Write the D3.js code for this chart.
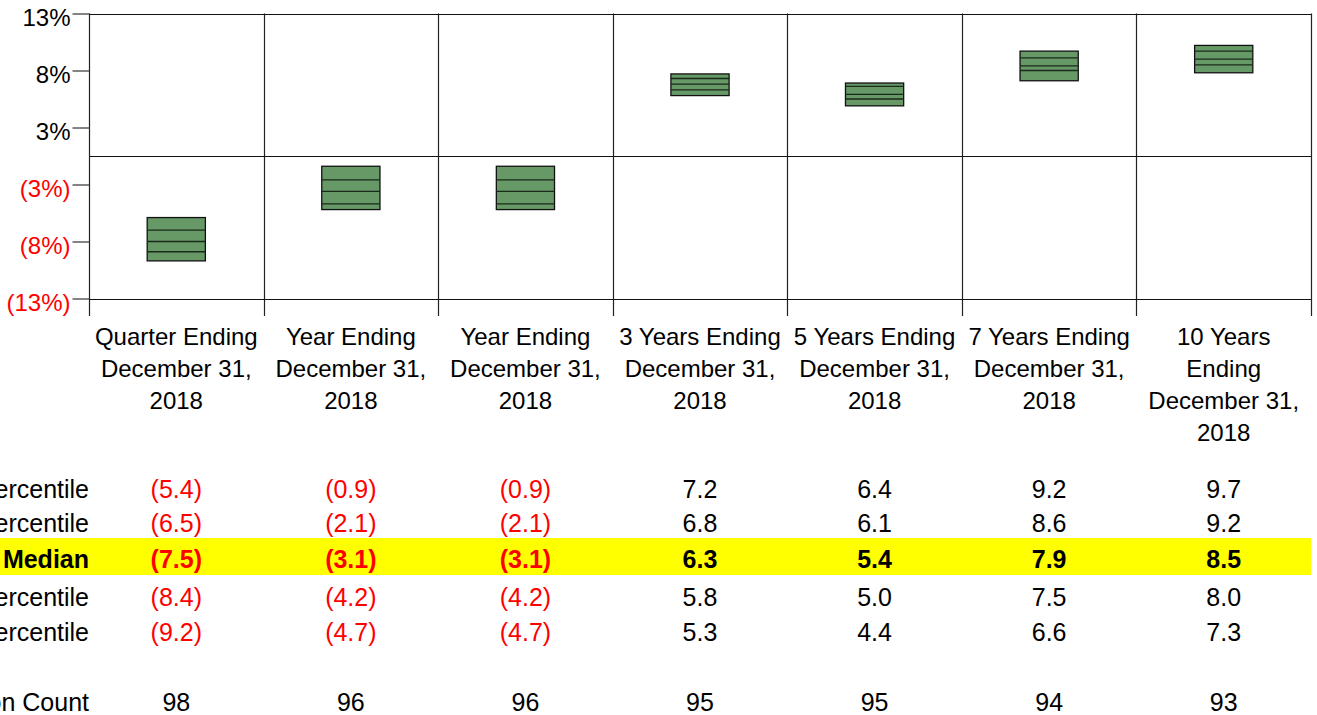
<!DOCTYPE html>
<html><head><meta charset="utf-8">
<script src="https://cdn.jsdelivr.net/npm/d3@7"></script>
<style>
html,body{margin:0;padding:0;background:#fff;overflow:hidden;}
svg{display:block;font-family:"Liberation Sans",Arial,sans-serif;}
</style></head>
<body>
<svg id="chart" width="1317" height="715"></svg>
<script>
const categories = [
  "Quarter Ending\nDecember 31,\n2018",
  "Year Ending\nDecember 31,\n2018",
  "Year Ending\nDecember 31,\n2018",
  "3 Years Ending\nDecember 31,\n2018",
  "5 Years Ending\nDecember 31,\n2018",
  "7 Years Ending\nDecember 31,\n2018",
  "10 Years\nEnding\nDecember 31,\n2018"
];
const p5     = [-5.4, -0.9, -0.9, 7.2, 6.4, 9.2, 9.7];
const p25    = [-6.5, -2.1, -2.1, 6.8, 6.1, 8.6, 9.2];
const median = [-7.5, -3.1, -3.1, 6.3, 5.4, 7.9, 8.5];
const p75    = [-8.4, -4.2, -4.2, 5.8, 5.0, 7.5, 8.0];
const p95    = [-9.2, -4.7, -4.7, 5.3, 4.4, 6.6, 7.3];
const populationCount = [98, 96, 96, 95, 95, 94, 93];
const rowLabels = ["5th Percentile", "25th Percentile", "Median", "75th Percentile", "95th Percentile", "Population Count"];
const yTicks = [-12.5, -7.5, -2.5, 2.5, 7.5, 12.5];
const yDomain = [-12.5, 12.5];

(function () {
const svg = d3.select("#chart");
const FS = 24, TFS = 25;
const L = 89, R = 1311, T = 13.5, B = 298.5;
const keys = categories.map((c, i) => i);

const x = d3.scaleBand().domain(keys).range([L, R]).paddingInner(0).paddingOuter(0);
const y = d3.scaleLinear().domain(yDomain).range([B, T]);

// highlight median row (drawn first)
svg.append("rect").attr("x", 0).attr("y", 538).attr("width", R).attr("height", 37).attr("fill", "#ffff00");

// Vertical grid / category separators (extend below plot as ticks)
const bounds = keys.map(k => x(k)).concat([R]);
svg.append("g").selectAll("line").data(bounds).join("line")
  .attr("x1", d => Math.round(d) + 0.5).attr("x2", d => Math.round(d) + 0.5)
  .attr("y1", T).attr("y2", 316)
  .attr("stroke", "#222").attr("stroke-width", 1.2);

// Top, bottom and zero lines
svg.append("g").selectAll("line").data([yDomain[1], yDomain[0], 0]).join("line")
  .attr("x1", L).attr("x2", R)
  .attr("y1", d => Math.round(y(d)) + 0.5).attr("y2", d => Math.round(y(d)) + 0.5)
  .attr("stroke", "#111").attr("stroke-width", 1.2);

// Y axis
const yAxis = d3.axisLeft(y).tickValues(yTicks).tickSize(17).tickPadding(2)
  .tickFormat(v => v < 0 ? "(" + Math.round(Math.abs(v)) + "%)" : Math.round(v) + "%");
const ga = svg.append("g").attr("transform", `translate(${L + 0.5},0)`).call(yAxis);
ga.select(".domain").remove();
ga.selectAll(".tick line").attr("stroke", "#333").attr("stroke-width", 1.2);
ga.selectAll(".tick text")
  .attr("font-size", FS).attr("font-family", "Liberation Sans, Arial, sans-serif")
  .attr("dy", "0.48em")
  .attr("fill", d => d < 0 ? "#ff0000" : "#000");

// Boxes
const bw = x.bandwidth() / 3;
const boxes = svg.append("g").selectAll("g").data(keys).join("g");
boxes.append("rect")
  .attr("x", k => x(k) + x.bandwidth() / 2 - bw / 2)
  .attr("width", bw)
  .attr("y", k => y(p5[k]))
  .attr("height", k => y(p95[k]) - y(p5[k]))
  .attr("fill", "#669966").attr("stroke", "#111").attr("stroke-width", 1.3);
[p25, median, p75].forEach(arr => {
  boxes.append("line")
    .attr("x1", k => x(k) + x.bandwidth() / 2 - bw / 2)
    .attr("x2", k => x(k) + x.bandwidth() / 2 + bw / 2)
    .attr("y1", k => y(arr[k])).attr("y2", k => y(arr[k]))
    .attr("stroke", "#1a2a1a").attr("stroke-width", 1.3);
});

// Category labels
const cl = svg.append("g").selectAll("text").data(keys).join("text")
  .attr("text-anchor", "middle").attr("font-size", FS).attr("fill", "#000");
cl.each(function(k) {
  const lines = categories[k].split("\n");
  d3.select(this).selectAll("tspan").data(lines).join("tspan")
    .attr("x", x(k) + x.bandwidth() / 2)
    .attr("y", (d, i) => 337 + i * 32)
    .attr("dy", "0.35em")
    .text(d => d);
});

// Table
const rows = [p5, p25, median, p75, p95, populationCount];
const rowY = [489, 523, 559, 597, 632, 702];
const fmt = v => v < 0 ? "(" + Math.abs(v).toFixed(1) + ")" : v.toFixed(1);
rows.forEach((arr, r) => {
  const isMed = r === 2;
  const isCount = r === 5;
  svg.append("text").attr("x", L).attr("y", rowY[r]).attr("dy", "0.35em")
    .attr("text-anchor", "end").attr("font-size", TFS)
    .attr("font-weight", isMed ? "bold" : "normal").attr("fill", "#000")
    .text(rowLabels[r]);
  svg.append("g").selectAll("text").data(keys).join("text")
    .attr("x", k => x(k) + x.bandwidth() / 2).attr("y", rowY[r]).attr("dy", "0.35em")
    .attr("text-anchor", "middle").attr("font-size", TFS)
    .attr("font-weight", isMed ? "bold" : "normal")
    .attr("fill", k => (!isCount && arr[k] < 0) ? "#ff0000" : "#000")
    .text(k => isCount ? String(arr[k]) : fmt(arr[k]));
});
})();
</script>
</body></html>
